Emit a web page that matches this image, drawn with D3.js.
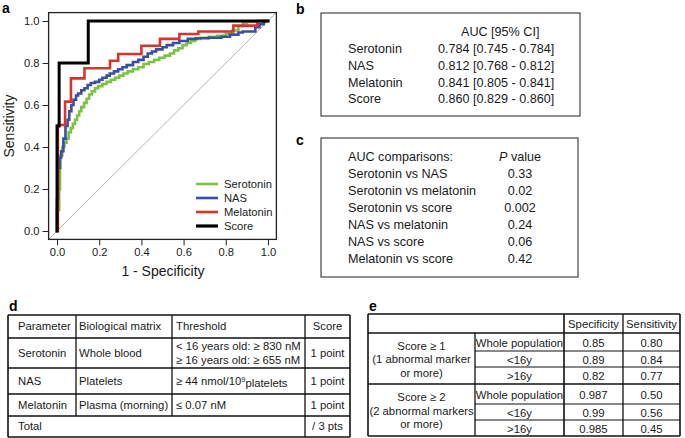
<!DOCTYPE html>
<html><head><meta charset="utf-8">
<script src="https://cdn.jsdelivr.net/npm/d3@7"></script>
<style>
body{margin:0;background:#fff;}
svg{display:block;font-family:"Liberation Sans",Arial,Helvetica,sans-serif;}
</style></head>
<body><svg id="chart" width="685" height="438"></svg>
<script>
// ---------- DATA ----------
const seriesNames = ["Serotonin","NAS","Melatonin","Score"];
const seriesColors = ["#7cc242","#3b4ea6","#d8342c","#000000"];
const xTicks = [0,0.2,0.4,0.6,0.8,1.0];
const yTicks = [0,0.2,0.4,0.6,0.8,1.0];

// ROC steps: (1-specificity, sensitivity) at the end of each plateau
const serotoninFpr = [0,0.01,0.014,0.017,0.025,0.035,0.045,0.055,0.065,0.075,0.085,0.095,0.105,0.115,0.128,0.14,0.152,0.165,0.18,0.195,0.215,0.235,0.255,0.275,0.295,0.315,0.335,0.36,0.385,0.41,0.435,0.46,0.485,0.51,0.535,0.555,0.575,0.595,0.615,0.635,0.655,0.68,0.72,0.76,0.8,0.83,0.86,0.88,0.9,0.95,1.0];
const serotoninTpr = [0,0.10,0.20,0.30,0.36,0.40,0.42,0.44,0.47,0.49,0.51,0.53,0.55,0.57,0.59,0.61,0.63,0.65,0.665,0.68,0.69,0.70,0.71,0.72,0.73,0.74,0.75,0.76,0.77,0.78,0.795,0.805,0.815,0.825,0.835,0.845,0.86,0.87,0.885,0.895,0.905,0.915,0.92,0.925,0.93,0.94,0.955,0.975,0.99,0.995,1.0];
const nasFpr = [0,0.005,0.012,0.02,0.03,0.04,0.05,0.058,0.068,0.078,0.09,0.1,0.115,0.13,0.145,0.16,0.18,0.2,0.215,0.235,0.25,0.27,0.29,0.31,0.33,0.36,0.385,0.41,0.43,0.45,0.47,0.5,0.52,0.55,0.58,0.62,0.66,0.72,0.78,0.82,0.86,0.88,0.94,0.96,0.98,1.0];
const nasTpr = [0,0.15,0.30,0.35,0.38,0.44,0.50,0.53,0.57,0.60,0.625,0.645,0.655,0.67,0.68,0.695,0.705,0.71,0.72,0.73,0.74,0.75,0.76,0.77,0.78,0.79,0.805,0.815,0.83,0.845,0.855,0.865,0.875,0.885,0.895,0.905,0.915,0.918,0.92,0.925,0.935,0.945,0.95,0.97,0.985,1.0];
const melatoninFpr = [0.004,0.038,0.066,0.13,0.251,0.29,0.40,0.488,0.58,0.67,0.836,0.95,1.0];
const melatoninTpr = [0,0.505,0.616,0.727,0.775,0.811,0.843,0.882,0.915,0.938,0.95,0.978,1.0];
const scoreFpr = [0,0.01,0.148,1.0];
const scoreTpr = [0,0.5,0.8,1.0];

// Panel b
const aucHeader = "AUC [95% CI]";
const aucNames = ["Serotonin","NAS","Melatonin","Score"];
const aucValues = ["0.784 [0.745 - 0.784]","0.812 [0.768 - 0.812]","0.841 [0.805 - 0.841]","0.860 [0.829 - 0.860]"];

// Panel c
const compNames = ["Serotonin vs NAS","Serotonin vs melatonin","Serotonin vs score","NAS vs melatonin","NAS vs score","Melatonin vs score"];
const compP = ["0.33","0.02","0.002","0.24","0.06","0.42"];

// Panel d
const dHeader = ["Parameter","Biological matrix","Threshold","Score"];
const dParams = ["Serotonin","NAS","Melatonin"];
const dMatrix = ["Whole blood","Platelets","Plasma (morning)"];
const dThreshold = [["< 16 years old: \u2265 830 nM","\u2265 16 years old: \u2265 655 nM"],["\u2265 44 nmol/10|9|platelets"],["\u2264 0.07 nM"]];
const dScore = ["1 point","1 point","1 point"];
const dTotal = ["Total","/ 3 pts"];

// Panel e
const eHeader = ["Specificity","Sensitivity"];
const eGroups = [["Score \u2265 1","(1 abnormal marker","or more)"],["Score \u2265 2","(2 abnormal markers","or more)"]];
const eSub = ["Whole population","<16y",">16y"];
const eSpec = [["0.85","0.89","0.82"],["0.987","0.99","0.985"]];
const eSens = [["0.80","0.84","0.77"],["0.50","0.56","0.45"]];

// ---------- DRAW ----------
const svg = d3.select("#chart");
const ink = "#1a1a1a";

function label(t,x,y){
  svg.append("text").attr("x",x).attr("y",y).attr("font-weight","bold")
    .attr("font-size",14).attr("fill","#000").text(t);
}

// Panel a
const x = d3.scaleLinear().domain([-0.04,1.04]).range([48.6,276.4]);
const y = d3.scaleLinear().domain([-0.04,1.04]).range([239.4,12.6]);
const gA = svg.append("g");

gA.append("line").attr("x1",x(-0.04)).attr("y1",y(-0.04)).attr("x2",x(1.04)).attr("y2",y(1.04))
  .attr("stroke","#b5b5b5").attr("stroke-width",1);

const series = [
  {fpr:serotoninFpr,tpr:serotoninTpr,w:2.6},
  {fpr:nasFpr,tpr:nasTpr,w:2.6},
  {fpr:melatoninFpr,tpr:melatoninTpr,w:2.6},
  {fpr:scoreFpr,tpr:scoreTpr,w:3}
];
const line = d3.line().x(d=>x(d[0])).y(d=>y(d[1])).curve(d3.curveStepBefore);
series.forEach((s,i)=>{
  const pts = s.fpr.map((v,j)=>[v,s.tpr[j]]);
  gA.append("path").attr("d",line(pts)).attr("fill","none")
    .attr("stroke",seriesColors[i]).attr("stroke-width",s.w)
    .attr("stroke-linejoin","miter").attr("stroke-linecap","square");
});

gA.append("rect").attr("x",x(-0.04)).attr("y",y(1.04))
  .attr("width",x(1.04)-x(-0.04)).attr("height",y(-0.04)-y(1.04))
  .attr("fill","none").attr("stroke","#222").attr("stroke-width",1.3);

const xAxis = d3.axisBottom(x).tickValues(xTicks).tickFormat(d3.format(".1f")).tickSize(6).tickPadding(3);
const gx = gA.append("g").attr("transform",`translate(0,${y(-0.04)})`).call(xAxis);
const yAxis = d3.axisLeft(y).tickValues(yTicks).tickFormat(d3.format(".1f")).tickSize(6).tickPadding(3);
const gy = gA.append("g").attr("transform",`translate(${x(-0.04)},0)`).call(yAxis);
[gx,gy].forEach(g=>{
  g.select(".domain").remove();
  g.selectAll(".tick line").attr("stroke","#222");
  g.selectAll(".tick text").attr("font-size",11.2).attr("fill",ink)
   .attr("font-family","Liberation Sans, Arial, sans-serif");
});
gA.append("text").attr("x",163).attr("y",276).attr("text-anchor","middle")
  .attr("font-size",14).attr("fill",ink).text("1 - Specificity");
gA.append("text").attr("transform","translate(14,126) rotate(-90)").attr("text-anchor","middle")
  .attr("font-size",14).attr("fill",ink).text("Sensitivity");

// legend
seriesNames.forEach((n,i)=>{
  const ly = 184 + i*14;
  gA.append("line").attr("x1",196).attr("x2",218).attr("y1",ly).attr("y2",ly)
    .attr("stroke",seriesColors[i]).attr("stroke-width",i===3?3.2:2.6);
  gA.append("text").attr("x",224).attr("y",ly).attr("dy","0.35em")
    .attr("font-size",11.2).attr("fill",ink).text(n);
});
label("a",2,13);

// Panel b
svg.append("rect").attr("x",321).attr("y",13).attr("width",259).attr("height",103)
  .attr("fill","none").attr("stroke","#333").attr("stroke-width",1.1);
svg.append("text").attr("x",461).attr("y",32).attr("dy","0.35em").attr("font-size",12.6).attr("fill",ink).text(aucHeader);
aucNames.forEach((n,i)=>{
  const ry = 49 + i*16.6;
  svg.append("text").attr("x",348).attr("y",ry).attr("dy","0.35em").attr("font-size",12.6).attr("fill",ink).text(n);
  svg.append("text").attr("x",438).attr("y",ry).attr("dy","0.35em").attr("font-size",12.6).attr("fill",ink).text(aucValues[i]);
});
label("b",296,14);

// Panel c
svg.append("rect").attr("x",321).attr("y",138).attr("width",257).attr("height",139)
  .attr("fill","none").attr("stroke","#333").attr("stroke-width",1.1);
svg.append("text").attr("x",348).attr("y",157).attr("dy","0.35em").attr("font-size",12.6).attr("fill",ink).text("AUC comparisons:");
const pv = svg.append("text").attr("x",520).attr("y",157).attr("dy","0.35em").attr("font-size",12.6).attr("fill",ink).attr("text-anchor","middle");
pv.append("tspan").attr("font-style","italic").text("P");
pv.append("tspan").text(" value");
compNames.forEach((n,i)=>{
  const ry = 174 + i*17;
  svg.append("text").attr("x",348).attr("y",ry).attr("dy","0.35em").attr("font-size",12.6).attr("fill",ink).text(n);
  svg.append("text").attr("x",520).attr("y",ry).attr("dy","0.35em").attr("font-size",12.6).attr("fill",ink).attr("text-anchor","middle").text(compP[i]);
});
label("c",296,145);

// Panel d table
const dCols = [8,76,172,305,350];
const dRows = [315,338,368,394,416,437];
const gD = svg.append("g");
const fsT = 11.3;
function tl(g,x1,y1,x2,y2,w){g.append("line").attr("x1",x1).attr("y1",y1).attr("x2",x2).attr("y2",y2).attr("stroke","#111").attr("stroke-width",w||1.3);}
dRows.forEach((ry,i)=>tl(gD,dCols[0],ry,dCols[4],ry,(i===0||i===dRows.length-1)?1.6:1.3));
dCols.forEach((cx,i)=>{
  const full = (i===0||i===3||i===4);
  tl(gD,cx,dRows[0],cx,full?dRows[5]:dRows[4],(i===0||i===4)?1.6:1.3);
});
function dtext(t,xx,yy,anchor){
  return gD.append("text").attr("x",xx).attr("y",yy).attr("dy","0.35em").attr("font-size",fsT)
    .attr("fill",ink).attr("text-anchor",anchor||"start").text(t);
}
const cy0 = (dRows[0]+dRows[1])/2;
dtext(dHeader[0],18,cy0); dtext(dHeader[1],79,cy0); dtext(dHeader[2],176,cy0); dtext(dHeader[3],327.5,cy0,"middle");
dParams.forEach((p,i)=>{
  const cy = (dRows[i+1]+dRows[i+2])/2;
  dtext(p,18,cy); dtext(dMatrix[i],79,cy); dtext(dScore[i],327.5,cy,"middle");
  const th = dThreshold[i];
  th.forEach((t,k)=>{
    const ty = cy + (k-(th.length-1)/2)*13.4;
    if(t.includes("|")){
      const parts = t.split("|");
      const tt = dtext("",176,ty);
      tt.append("tspan").text(parts[0]);
      tt.append("tspan").attr("font-size",7.5).attr("dy","-0.45em").text(parts[1]);
      tt.append("tspan").attr("dy","0.45em").text(parts[2]);
    } else dtext(t,176,ty);
  });
});
const cyT = (dRows[4]+dRows[5])/2;
dtext(dTotal[0],18,cyT); dtext(dTotal[1],327.5,cyT,"middle");
label("d",9,311);

// Panel e table
const eCols = [368,475,564,623,680];
const eRows = [314,333,351,367,384,404,420,436];
const gE = svg.append("g");
[0,1,4,7].forEach(k=>tl(gE,eCols[0],eRows[k],eCols[4],eRows[k],k===1?1.3:1.6));
[2,3,5,6].forEach(k=>tl(gE,eCols[1],eRows[k],eCols[4],eRows[k],1.1));
tl(gE,eCols[0],eRows[0],eCols[0],eRows[7],1.6);
tl(gE,eCols[1],eRows[1],eCols[1],eRows[7],1.3);
tl(gE,eCols[2],eRows[0],eCols[2],eRows[7],1.6);
tl(gE,eCols[3],eRows[0],eCols[3],eRows[7],1.3);
tl(gE,eCols[4],eRows[0],eCols[4],eRows[7],1.6);
function etext(t,xx,yy){
  return gE.append("text").attr("x",xx).attr("y",yy).attr("dy","0.35em").attr("font-size",fsT)
    .attr("fill",ink).attr("text-anchor","middle").text(t);
}
const ecx = k=>(eCols[k]+eCols[k+1])/2;
etext(eHeader[0],ecx(2),(eRows[0]+eRows[1])/2+1);
etext(eHeader[1],ecx(3),(eRows[0]+eRows[1])/2+1);
eGroups.forEach((g,gi)=>{
  const top = eRows[1+gi*3], bot = eRows[4+gi*3];
  const mid = (top+bot)/2+1;
  g.forEach((t,k)=>etext(t,ecx(0),mid+(k-1)*13.5));
  eSub.forEach((s,k)=>{
    const ry = (eRows[1+gi*3+k]+eRows[2+gi*3+k])/2+1;
    etext(s,ecx(1),ry); etext(eSpec[gi][k],ecx(2),ry); etext(eSens[gi][k],ecx(3),ry);
  });
});
label("e",369,311);
</script></body></html>
